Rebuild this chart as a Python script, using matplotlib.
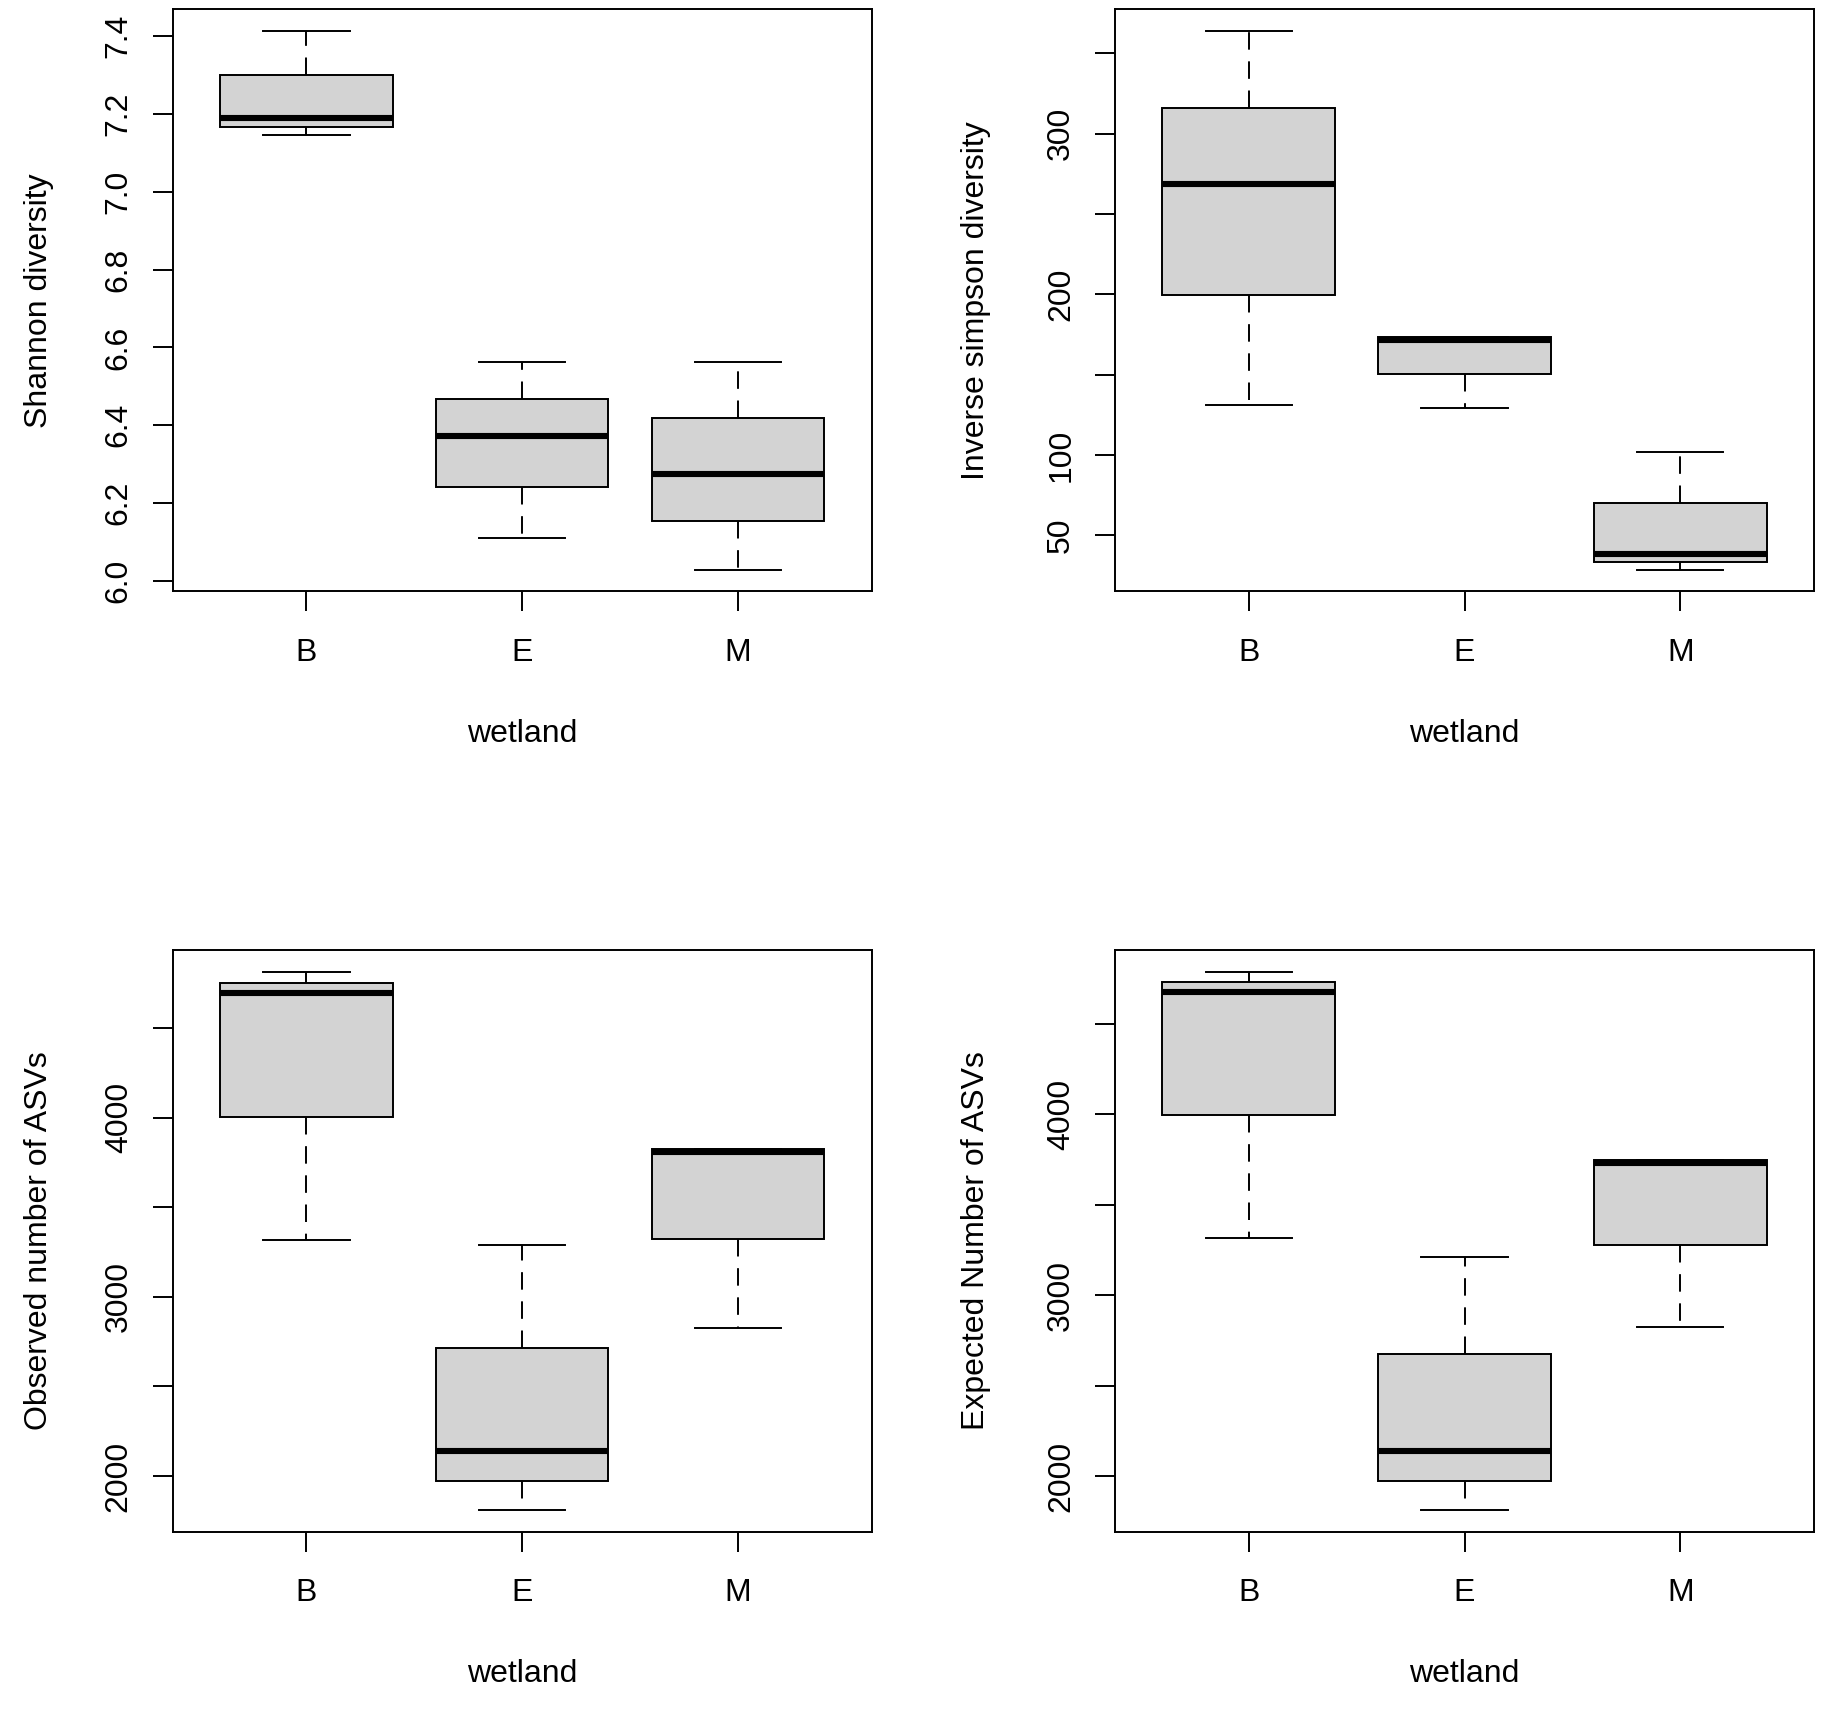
import matplotlib
matplotlib.use("Agg")
import matplotlib.pyplot as plt
import numpy as np

plt.rcParams["font.family"] = ["Liberation Sans", "DejaVu Sans"]

GROUPS = ["B", "E", "M"]
XLABEL = "wetland"

# five-number summaries per wetland: lower whisker, Q1, median, Q3, upper whisker
SHANNON_B = [7.146, 7.167, 7.189, 7.300, 7.413]
SHANNON_E = [6.110, 6.242, 6.373, 6.467, 6.562]
SHANNON_M = [6.029, 6.153, 6.276, 6.419, 6.563]

INVSIMPSON_B = [131.0, 199.7, 268.5, 316.0, 364.0]
INVSIMPSON_E = [129.5, 150.5, 171.5, 173.5, 173.5]
INVSIMPSON_M = [28.5, 33.5, 38.0, 70.0, 102.0]

OBSERVED_B = [3317, 4005, 4695, 4753, 4816]
OBSERVED_E = [1808, 1972, 2139, 2716, 3289]
OBSERVED_M = [2825, 3321, 3809, 3823, 3823]

EXPECTED_B = [3317, 3997, 4675, 4728, 4787]
EXPECTED_E = [1810, 1975, 2138, 2672, 3209]
EXPECTED_M = [2822, 3274, 3729, 3745, 3745]

SHANNON_TICKS = [6.0, 6.2, 6.4, 6.6, 6.8, 7.0, 7.2, 7.4]
SHANNON_LABELS = ["6.0", "6.2", "6.4", "6.6", "6.8", "7.0", "7.2", "7.4"]
SIMPSON_TICKS = [50, 100, 150, 200, 250, 300, 350]
SIMPSON_LABELS = ["50", "100", "", "200", "", "300", ""]
ASV_TICKS = [2000, 2500, 3000, 3500, 4000, 4500]
ASV_LABELS = ["2000", "", "3000", "", "4000", ""]

PANELS = [
    ("Shannon diversity", [SHANNON_B, SHANNON_E, SHANNON_M], SHANNON_TICKS, SHANNON_LABELS),
    ("Inverse simpson diversity", [INVSIMPSON_B, INVSIMPSON_E, INVSIMPSON_M], SIMPSON_TICKS, SIMPSON_LABELS),
    ("Observed number of ASVs", [OBSERVED_B, OBSERVED_E, OBSERVED_M], ASV_TICKS, ASV_LABELS),
    ("Expected Number of ASVs", [EXPECTED_B, EXPECTED_E, EXPECTED_M], ASV_TICKS, ASV_LABELS),
]

FONT = 23
LW = 1.4
W, H = 1829, 1720

fig = plt.figure(figsize=(W / 100, H / 100), dpi=100)

# axes boxes in pixels: left, top
col_left = [172.6, 1115.0]
row_top = [9.3, 950.0]
ax_w, ax_h = 699.0, 582.0
ylab_x = [-0.1692, -0.1778]


def make_stats(summaries):
    stats = []
    for name, s in zip(GROUPS, summaries):
        stats.append({"label": name, "whislo": s[0], "q1": s[1], "med": s[2],
                      "q3": s[3], "whishi": s[4], "fliers": []})
    return stats


for i, (ylabel, summaries, ticks, labels) in enumerate(PANELS):
    r, c = divmod(i, 2)
    left = col_left[c] / W
    bottom = 1 - (row_top[r] + ax_h) / H
    ax = fig.add_axes([left, bottom, ax_w / W, ax_h / H])

    ax.bxp(make_stats(summaries), positions=[1, 2, 3], widths=0.8, capwidths=0.4,
           patch_artist=True, showfliers=False,
           boxprops=dict(facecolor="#D3D3D3", edgecolor="black", linewidth=LW),
           medianprops=dict(color="black", linewidth=4.4, solid_capstyle="butt"),
           whiskerprops=dict(color="black", linewidth=LW, linestyle=(0, (9, 6))),
           capprops=dict(color="black", linewidth=LW))

    lo = min(s[0] for s in summaries)
    hi = max(s[4] for s in summaries)
    pad = (hi - lo) * 0.04
    ax.set_ylim(lo - pad, hi + pad)
    ax.set_xlim(0.38, 3.62)

    ax.set_xticks([1, 2, 3])
    ax.set_xticklabels(GROUPS, fontsize=FONT)
    ax.set_yticks(ticks)
    ax.set_yticklabels(labels, fontsize=FONT, rotation=90, va="center")
    ax.tick_params(axis="x", length=14.4, width=LW, pad=19)
    ax.tick_params(axis="y", length=14.4, width=LW, pad=13.5)

    for sp in ax.spines.values():
        sp.set_linewidth(LW)
        sp.set_color("black")

    ax.set_xlabel(XLABEL, fontsize=FONT)
    ax.set_ylabel(ylabel, fontsize=FONT)
    ax.xaxis.set_label_coords(0.5, -0.2187)
    ax.yaxis.set_label_coords(ylab_x[c], 0.5)

fig.savefig("out.png", dpi=100)
